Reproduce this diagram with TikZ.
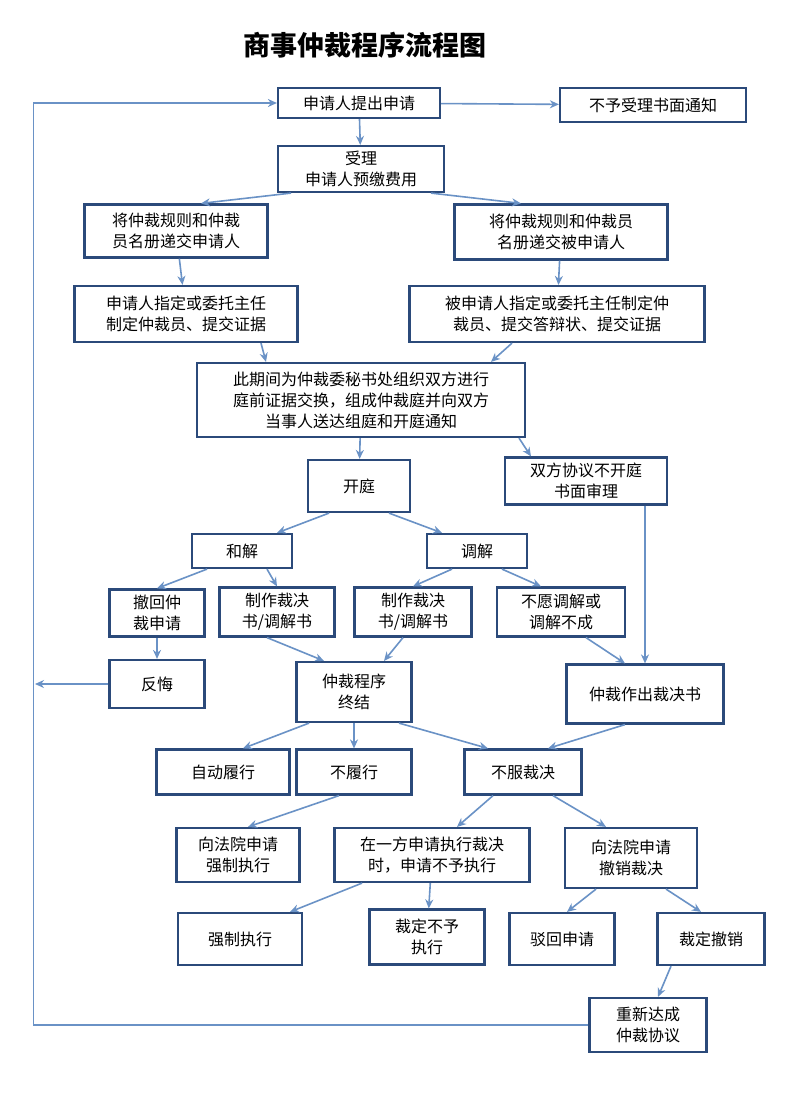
\documentclass[tikz,border=0pt]{standalone}
\usepackage{fontspec}
\newfontfamily\cjk{Noto Sans CJK SC}
\usetikzlibrary{arrows.meta}
\definecolor{boxline}{HTML}{2B4A7A}
\definecolor{arrline}{HTML}{6A92C6}
\tikzset{
  box/.style={draw=boxline,line width=2.2pt,fill=white,align=center,inner sep=2pt,
    font=\cjk\fontsize{16}{21}\selectfont},
  arr/.style={draw=arrline,line width=1.6pt,-{Stealth[length=9pt,width=8pt]}},
  flow/.style={draw=arrline,line width=1.6pt}
}
\begin{document}
\begin{tikzpicture}[x=1pt,y=-1pt]
\useasboundingbox[fill=white] (0,0) rectangle (800,1094);
\node[font=\cjk\bfseries\fontsize{27}{30}\selectfont] (title) at (365,45) {商事仲裁程序流程图};
% top
\node[box,minimum width=162pt,minimum height=30pt] (apply) at (359,103) {申请人提出申请};
\node[box,minimum width=186pt,minimum height=34pt] (reject) at (653,105) {不予受理书面通知};
\node[box,minimum width=166pt,minimum height=46pt] (accept) at (361,169) {受理\\申请人预缴费用};
\node[box,minimum width=183pt,minimum height=53pt] (rulesA) at (176,231) {将仲裁规则和仲裁\\员名册递交申请人};
\node[box,minimum width=213pt,minimum height=55pt] (rulesB) at (561,232) {将仲裁规则和仲裁员\\名册递交被申请人};
\node[box,minimum width=223pt,minimum height=56pt] (pickA) at (186,314) {申请人指定或委托主任\\制定仲裁员、提交证据};
\node[box,minimum width=295pt,minimum height=56pt] (pickB) at (557,314) {被申请人指定或委托主任制定仲\\裁员、提交答辩状、提交证据};
\node[box,minimum width=328pt,minimum height=74pt] (prep) at (361,400) {此期间为仲裁委秘书处组织双方进行\\庭前证据交换，组成仲裁庭并向双方\\当事人送达组庭和开庭通知};
% hearing
\node[box,minimum width=102pt,minimum height=52pt] (hear) at (359,486) {开庭};
\node[box,minimum width=162pt,minimum height=47pt] (paper) at (586,481) {双方协议不开庭\\书面审理};
\node[box,minimum width=100pt,minimum height=34pt] (settle) at (242,551) {和解};
\node[box,minimum width=100pt,minimum height=34pt] (mediate) at (477,551) {调解};
\node[box,minimum width=95pt,minimum height=47pt] (withdraw) at (157,613) {撤回仲\\裁申请};
\node[box,minimum width=115pt,minimum height=49pt] (docA) at (277,612) {制作裁决\\书/调解书};
\node[box,minimum width=117pt,minimum height=49pt] (docB) at (413,612) {制作裁决\\书/调解书};
\node[box,minimum width=128pt,minimum height=49pt] (fail) at (561,612) {不愿调解或\\调解不成};
\node[box,minimum width=95pt,minimum height=48pt] (regret) at (157,684) {反悔};
\node[box,minimum width=115pt,minimum height=60pt] (endp) at (354,692) {仲裁程序\\终结};
\node[box,minimum width=157pt,minimum height=59pt] (award) at (645,694) {仲裁作出裁决书};
% after award
\node[box,minimum width=133pt,minimum height=45pt] (comply) at (223,772) {自动履行};
\node[box,minimum width=115pt,minimum height=45pt] (nocomply) at (354,772) {不履行};
\node[box,minimum width=117pt,minimum height=45pt] (object) at (523,772) {不服裁决};
\node[box,minimum width=123pt,minimum height=54pt] (enforceReq) at (238,855) {向法院申请\\强制执行};
\node[box,minimum width=195pt,minimum height=54pt] (noEnforceReq) at (432,855) {在一方申请执行裁决\\时，申请不予执行};
\node[box,minimum width=132pt,minimum height=60pt] (cancelReq) at (631,858) {向法院申请\\撤销裁决};
\node[box,minimum width=124pt,minimum height=52pt] (enforce) at (240,939) {强制执行};
\node[box,minimum width=115pt,minimum height=55pt] (noEnforce) at (427,937) {裁定不予\\执行};
\node[box,minimum width=105pt,minimum height=52pt] (dismiss) at (562,939) {驳回申请};
\node[box,minimum width=107pt,minimum height=52pt] (cancel) at (711,939) {裁定撤销};
\node[box,minimum width=117pt,minimum height=54pt] (renew) at (648,1025) {重新达成\\仲裁协议};
\coordinate (loopL) at (35,684);
% connectors
\draw[arr] (apply) -- (reject);
\draw[arr] (apply) -- (accept);
\draw[arr] ([xshift=-70pt]accept.south) -- ([xshift=25pt]rulesA.north);
\draw[arr] ([xshift=70pt]accept.south) -- ([xshift=-40pt]rulesB.north);
\draw[arr] (rulesA) -- (pickA);
\draw[arr] (rulesB) -- (pickB);
\draw[arr] ([xshift=75pt]pickA.south) -- ([xshift=-95pt]prep.north);
\draw[arr] ([xshift=-45pt]pickB.south) -- ([xshift=130pt]prep.north);
\draw[arr] (prep) -- (hear);
\draw[arr] ([xshift=158pt]prep.south) -- ([xshift=-55pt]paper.north);
\draw[arr] ([xshift=-30pt]hear.south) -- ([xshift=35pt]settle.north);
\draw[arr] ([xshift=30pt]hear.south) -- ([xshift=-35pt]mediate.north);
\draw[arr] ([xshift=-35pt]settle.south) -- (withdraw.north);
\draw[arr] ([xshift=25pt]settle.south) -- (docA.north);
\draw[arr] ([xshift=-25pt]mediate.south) -- (docB.north);
\draw[arr] ([xshift=25pt]mediate.south) -- ([xshift=-20pt]fail.north);
\draw[arr] (withdraw) -- (regret);
\draw[arr] ([xshift=-10pt]docA.south) -- ([xshift=-30pt]endp.north);
\draw[arr] ([xshift=-10pt]docB.south) -- ([xshift=30pt]endp.north);
\draw[arr] ([xshift=25pt]fail.south) -- ([xshift=-20pt]award.north);
\draw[arr] ([xshift=59pt]paper.south) -- ([xshift=0pt]award.north);
\draw[arr] (regret) -- (loopL);
\draw[arr] ([xshift=-45pt]endp.south) -- ([xshift=20pt]comply.north);
\draw[arr] (endp) -- (nocomply);
\draw[arr] ([xshift=45pt]endp.south) -- ([xshift=-35pt]object.north);
\draw[arr] ([xshift=-20pt]award.south) -- ([xshift=25pt]object.north);
\draw[arr] ([xshift=-15pt]nocomply.south) -- ([xshift=10pt]enforceReq.north);
\draw[arr] ([xshift=-30pt]object.south) -- ([xshift=25pt]noEnforceReq.north);
\draw[arr] ([xshift=30pt]object.south) -- ([xshift=-25pt]cancelReq.north);
\draw[arr] ([xshift=-70pt]noEnforceReq.south) -- ([xshift=50pt]enforce.north);
\draw[arr] (noEnforceReq) -- (noEnforce);
\draw[arr] ([xshift=-35pt]cancelReq.south) -- ([xshift=5pt]dismiss.north);
\draw[arr] ([xshift=35pt]cancelReq.south) -- ([xshift=-10pt]cancel.north);
\draw[arr] ([xshift=-40pt]cancel.south) -- ([xshift=10pt]renew.north);
\draw[arr] (renew.west) -- ++(-555pt,0) |- (apply.west);
\end{tikzpicture}
\end{document}
